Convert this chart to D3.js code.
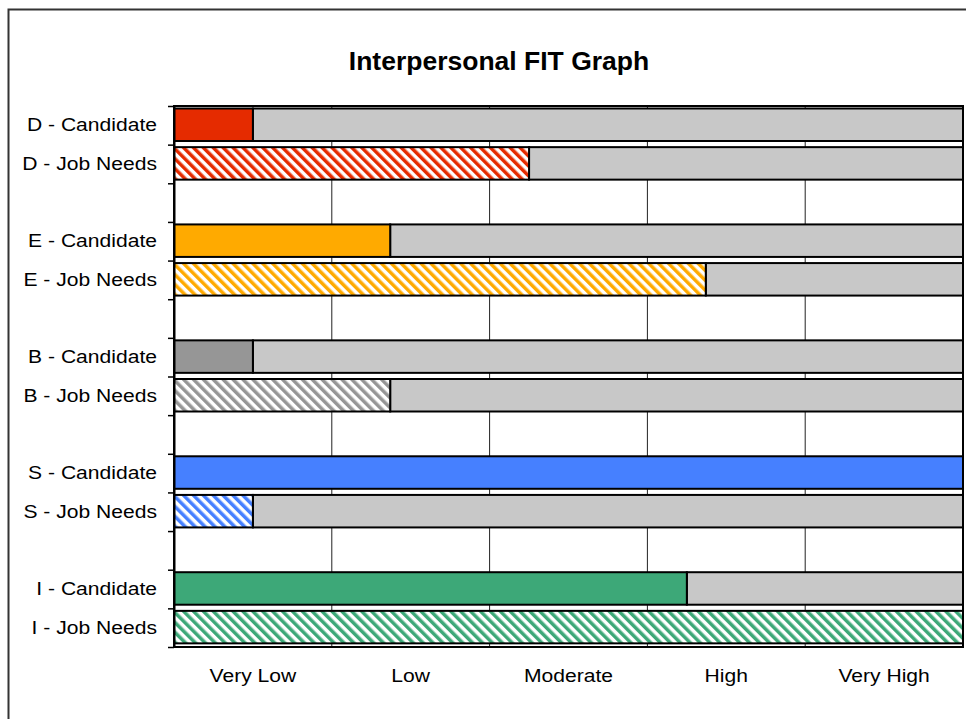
<!DOCTYPE html>
<html>
<head>
<meta charset="utf-8">
<script src="https://cdn.jsdelivr.net/npm/d3@7"></script>
<style>
  html, body { margin: 0; padding: 0; background: #fff; }
  svg { display: block; font-family: Arial, "Liberation Sans", sans-serif; }
</style>
</head>
<body>
<svg id="chart" width="966" height="719"></svg>
<script>
// Rows, top to bottom (each trait: candidate then job needs)
const categories = [
  "D - Candidate", "D - Job Needs",
  "E - Candidate", "E - Job Needs",
  "B - Candidate", "B - Job Needs",
  "S - Candidate", "S - Job Needs",
  "I - Candidate", "I - Job Needs"
];
// Level reached on a 0–5 scale
const values = [0.5, 2.25, 1.37, 3.37, 0.5, 1.37, 5, 0.5, 3.25, 5];
const traitColors = ["#E52B00", "#FFAA00", "#969696", "#4680FF", "#3DA878"];
const levels = ["Very Low", "Low", "Moderate", "High", "Very High"];
const title = "Interpersonal FIT Graph";

const svg = d3.select("#chart");
const W = 966, H = 719;
const plot = { left: 174, right: 963, top: 106, bottom: 647 };
const slotCount = 14; // 5 traits × (2 rows + spacer), last spacer dropped

const x = d3.scaleLinear().domain([0, 5]).range([plot.left, plot.right]);
const xBand = d3.scaleBand().domain(levels).range([plot.left, plot.right]);
const ySlot = d3.scaleLinear().domain([0, slotCount]).range([plot.top, plot.bottom]);
const slotH = ySlot(1) - ySlot(0);

const rowSlot = i => Math.floor(i / 2) * 3 + (i % 2);
const rowColor = i => traitColors[Math.floor(i / 2)];
const isJob = i => i % 2 === 1;

// Outer frame
svg.append("rect")
  .attr("x", 8.5).attr("y", 9.5)
  .attr("width", W + 20).attr("height", H + 20)
  .attr("fill", "#fff").attr("stroke", "#333").attr("stroke-width", 2);

// Diagonal hatch patterns for job-needs rows
const defs = svg.append("defs");
const hatch = 7;
traitColors.forEach((c, k) => {
  const p = defs.append("pattern")
    .attr("id", "hatch" + k)
    .attr("patternUnits", "userSpaceOnUse")
    .attr("width", hatch).attr("height", hatch)
    .attr("patternTransform", "rotate(-45)");
  p.append("rect").attr("width", hatch).attr("height", hatch).attr("fill", "#fff");
  p.append("rect").attr("width", hatch / 2).attr("height", hatch).attr("fill", c);
});

// Title
svg.append("text")
  .attr("x", 499)
  .attr("y", 61)
  .attr("text-anchor", "middle")
  .attr("dominant-baseline", "central")
  .attr("font-size", 26.5)
  .attr("font-weight", "bold")
  .attr("fill", "#000")
  .text(title);

// Vertical gridlines
svg.append("g")
  .selectAll("line")
  .data(d3.range(1, 5))
  .join("line")
  .attr("x1", d => x(d)).attr("x2", d => x(d))
  .attr("y1", plot.top).attr("y2", plot.bottom)
  .attr("stroke", "#222").attr("stroke-width", 1);

// Bars: background track plus filled level
const rows = svg.append("g")
  .selectAll("g")
  .data(values)
  .join("g")
  .attr("transform", (d, i) => `translate(0,${ySlot(rowSlot(i))})`);

const barY = 2.5, barH = 32.5;
rows.append("rect")
  .attr("x", d => x(d)).attr("y", barY)
  .attr("width", d => Math.max(0, x(5) - x(d)))
  .attr("height", barH)
  .attr("fill", "#C8C8C8")
  .attr("stroke", "#000").attr("stroke-width", 2);
rows.append("rect")
  .attr("x", x(0)).attr("y", barY)
  .attr("width", d => x(d) - x(0))
  .attr("height", barH)
  .attr("fill", (d, i) => isJob(i) ? `url(#hatch${Math.floor(i / 2)})` : rowColor(i))
  .attr("stroke", "#000").attr("stroke-width", 2);

// Plot frame
svg.append("rect")
  .attr("x", plot.left).attr("y", plot.top)
  .attr("width", plot.right - plot.left)
  .attr("height", plot.bottom - plot.top)
  .attr("fill", "none").attr("stroke", "#000").attr("stroke-width", 2);

// Left axis: ticks at slot boundaries
const yAxis = d3.axisLeft(ySlot)
  .tickValues(d3.range(0, slotCount + 1))
  .tickFormat("")
  .tickSize(6)
  .tickSizeOuter(0);
svg.append("g")
  .attr("transform", `translate(${plot.left},0)`)
  .call(yAxis)
  .call(g => g.select(".domain").attr("stroke", "#000").attr("stroke-width", 2))
  .call(g => g.selectAll(".tick line").attr("stroke", "#000").attr("stroke-width", 1.5));

// Row labels
const sx = 1.14;
svg.append("g")
  .selectAll("text")
  .data(categories)
  .join("text")
  .attr("transform", (d, i) => `translate(157,${ySlot(rowSlot(i)) + slotH / 2 - 0.5}) scale(${sx},1)`)
  .attr("text-anchor", "end")
  .attr("dominant-baseline", "central")
  .attr("font-size", 18.5)
  .attr("fill", "#000")
  .text(d => d);

// Bottom level labels
const xAxis = d3.axisBottom(xBand).tickSize(0).tickPadding(0);
svg.append("g")
  .attr("transform", `translate(0,${plot.bottom})`)
  .call(xAxis)
  .call(g => g.select(".domain").remove())
  .call(g => g.selectAll(".tick text")
    .attr("y", 0)
    .attr("dy", null)
    .attr("transform", `translate(0,28) scale(${sx},1)`)
    .attr("dominant-baseline", "central")
    .attr("font-size", 18.5)
    .attr("font-family", "Arial, 'Liberation Sans', sans-serif")
    .attr("fill", "#000"));
</script>
</body>
</html>
